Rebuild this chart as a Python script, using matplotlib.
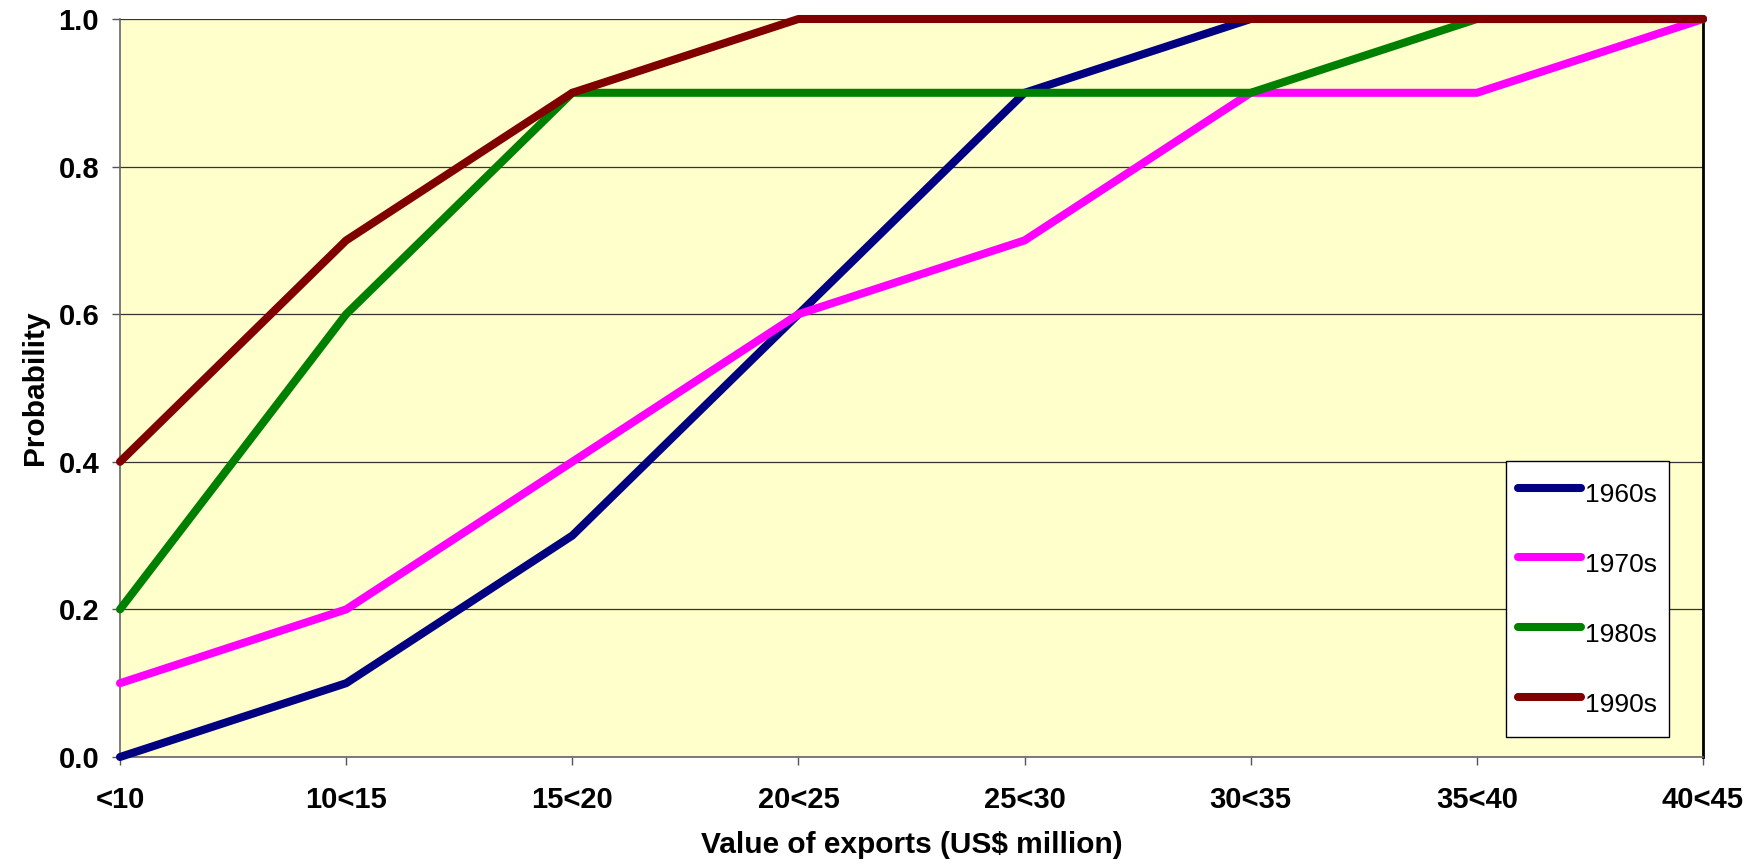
import matplotlib
matplotlib.use("Agg")
import matplotlib.pyplot as plt
from matplotlib.lines import Line2D

categories = ["<10", "10<15", "15<20", "20<25", "25<30", "30<35", "35<40", "40<45"]
s1960 = [0.0, 0.1, 0.3, 0.6, 0.9, 1.0, 1.0, 1.0]
s1970 = [0.1, 0.2, 0.4, 0.6, 0.7, 0.9, 0.9, 1.0]
s1980 = [0.2, 0.6, 0.9, 0.9, 0.9, 0.9, 1.0, 1.0]
s1990 = [0.4, 0.7, 0.9, 1.0, 1.0, 1.0, 1.0, 1.0]
series = [("1960s", s1960, "#000080"), ("1970s", s1970, "#FF00FF"),
          ("1980s", s1980, "#008000"), ("1990s", s1990, "#800000")]
yticks = [0.0, 0.2, 0.4, 0.6, 0.8, 1.0]

plt.rcParams['font.family'] = ['Liberation Sans', 'DejaVu Sans']

fig = plt.figure(figsize=(17.65, 8.67), dpi=100)
ax = fig.add_axes([120/1765, 1-757/867, (1703-120)/1765, (757-19)/867])
ax.set_facecolor("#FFFFCC")

x = list(range(len(categories)))
for name, vals, col in series:
    ax.plot(x, vals, color=col, lw=5.8, solid_capstyle='round', solid_joinstyle='round',
            clip_on=False, zorder=3)

ax.set_xlim(0, len(categories) - 1)
ax.set_ylim(0, 1.0)
ax.set_yticks(yticks)
ax.set_yticklabels([f"{v:.1f}" for v in yticks])
ax.set_xticks(x)
ax.set_xticklabels(categories)
for lab in ax.get_xticklabels() + ax.get_yticklabels():
    lab.set_fontweight('bold')
    lab.set_fontsize(21)
ax.tick_params(axis='x', length=6, width=1, color='#555555', pad=15)
ax.tick_params(axis='y', length=6, width=1, color='#555555', pad=9)

ax.grid(axis='y', color='#333333', lw=0.9, zorder=1)
ax.set_axisbelow(True)

for sp in ['left', 'bottom']:
    ax.spines[sp].set_color('#666666')
    ax.spines[sp].set_linewidth(1.2)
ax.spines['top'].set_visible(False)
ax.spines['right'].set_color('black')
ax.spines['right'].set_linewidth(2)

ax.set_xlabel("Value of exports (US$ million)", fontsize=21.5, fontweight='bold', labelpad=12)
ax.set_ylabel("Probability", fontsize=21.5, fontweight='bold', labelpad=7)

handles = [Line2D([0], [0], color=c, lw=5.8, solid_capstyle='round') for _, _, c in series]
leg = ax.legend(handles, [n for n, _, _ in series], loc='upper left',
                bbox_to_anchor=((1506-120)/(1703-120), (757-461)/(757-19)),
                fontsize=19, frameon=True, fancybox=False, handlelength=2.4,
                handleheight=2.07, labelspacing=1.06, borderpad=0.45,
                handletextpad=0.15, borderaxespad=0)
leg.get_frame().set_edgecolor('black')
leg.get_frame().set_linewidth(1)
leg.get_frame().set_facecolor('white')
leg.get_frame().set_alpha(1)

fig.savefig("out.png", dpi=100)
